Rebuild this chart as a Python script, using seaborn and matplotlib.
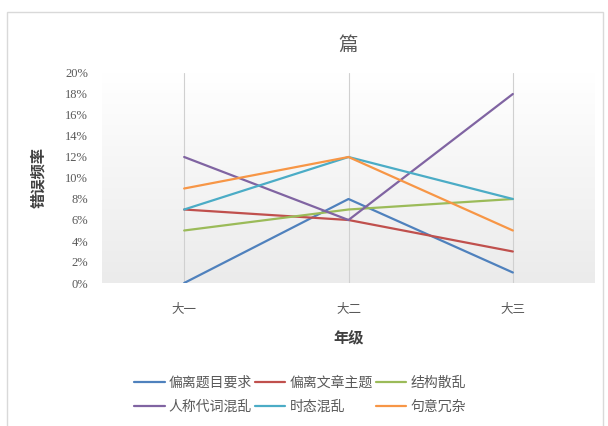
import numpy as np
import pandas as pd
import seaborn as sns
import matplotlib.pyplot as plt
from matplotlib.patches import Rectangle
from matplotlib.ticker import PercentFormatter

grades = ['大一', '大二', '大三']
series_names = ['偏离题目要求', '偏离文章主题', '结构散乱', '人称代词混乱', '时态混乱', '句意冗杂']
off_prompt = [0, 8, 1]
off_theme = [7, 6, 3]
loose_structure = [5, 7, 8]
pronoun_mixup = [12, 6, 18]
tense_mixup = [7, 12, 8]
wordy = [9, 12, 5]
colors = ['#4F81BD', '#C0504D', '#9BBB59', '#8064A2', '#4BACC6', '#F79646']
yticks = list(range(0, 21, 2))

sns.set_style('white')
plt.rcParams['font.family'] = ['Noto Sans CJK SC', 'DejaVu Sans']

rows = []
for name, vals in zip(series_names, [off_prompt, off_theme, loose_structure,
                                     pronoun_mixup, tense_mixup, wordy]):
    for g, v in zip(grades, vals):
        rows.append({'年级': g, '错误频率': v, '类型': name})
df = pd.DataFrame(rows)

fig = plt.figure(figsize=(6.08, 4.26), dpi=100)
# chart frame
fig.patches.append(Rectangle((7 / 608, -0.1), 596 / 608, 1.1 - 12 / 426,
                             transform=fig.transFigure, fill=False,
                             edgecolor='#d9d9d9', linewidth=1.0))
ax = fig.add_axes([102 / 608, 143 / 426, 493 / 608, 210 / 426])

# background gradient of the plot area
grad = np.linspace(0, 1, 256).reshape(-1, 1)
ax.imshow(grad, extent=[0, 1, 0, 1], transform=ax.transAxes, aspect='auto',
          cmap=plt.matplotlib.colors.LinearSegmentedColormap.from_list('g', ['#ffffff', '#ebebeb']),
          zorder=0)

sns.lineplot(data=df, x='年级', y='错误频率', hue='类型', hue_order=series_names,
             palette=colors, sort=False, linewidth=1.6, ax=ax, legend=True, zorder=3)

ax.set_xlim(-0.5, 2.5)
ax.set_ylim(0, 20)
ax.set_yticks(yticks)
ax.yaxis.set_major_formatter(PercentFormatter(decimals=0))
for x in range(len(grades)):
    ax.axvline(x, color='#d0d0d0', linewidth=0.8, zorder=1)
for s in ax.spines.values():
    s.set_visible(False)
ax.tick_params(axis='both', length=0, colors='#595959')
ax.tick_params(axis='x', labelsize=9, pad=14)
ax.tick_params(axis='y', labelsize=9, pad=10)
for lab in ax.get_yticklabels():
    lab.set_family('Liberation Serif')

ax.set_xlabel('年级', fontsize=11, color='#404040', fontweight='bold', labelpad=10)
ax.set_ylabel('错误频率', fontsize=11, color='#404040', fontweight='bold', labelpad=14)
ax.set_title('篇', fontsize=14, color='#595959', pad=16)

handles, labels = ax.get_legend_handles_labels()
ax.get_legend().remove()
order = [0, 3, 1, 4, 2, 5]
leg = fig.legend([handles[i] for i in order], [labels[i] for i in order],
                 loc='center', bbox_to_anchor=(300 / 608, 1 - 395 / 426), ncol=3,
                 frameon=False, fontsize=10, handlelength=2.2, handletextpad=0.3,
                 columnspacing=0.2, labelspacing=0.75)
for t in leg.get_texts():
    t.set_color('#595959')

fig.savefig('out.png', dpi=100)
